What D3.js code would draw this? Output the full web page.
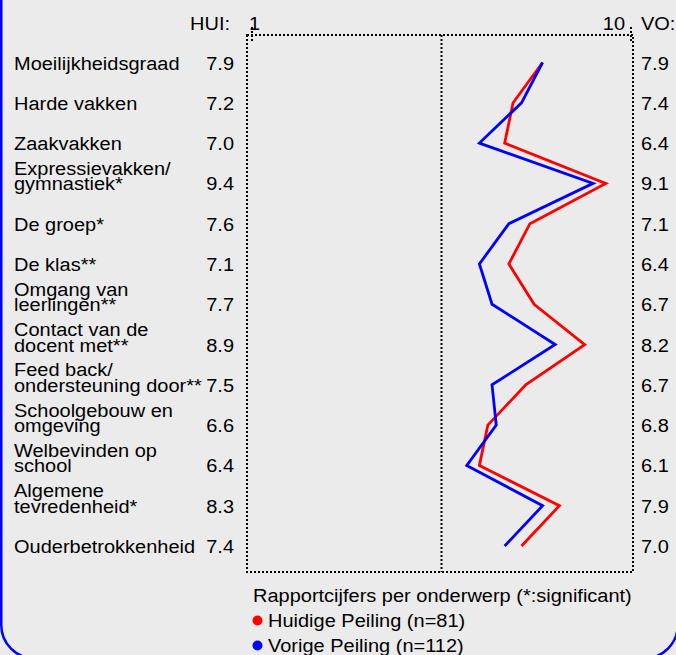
<!DOCTYPE html>
<html>
<head>
<meta charset="utf-8">
<script src="https://cdnjs.cloudflare.com/ajax/libs/d3/7.8.5/d3.min.js"></script>
<style>
  html, body { margin: 0; padding: 0; background: #ebebeb; }
  svg { display: block; }
  text { font-family: Arial, "Liberation Sans", sans-serif; font-size: 20px; fill: #000; }
</style>
</head>
<body>
<svg id="svg" width="676" height="655"></svg>
<script>
  // onderwerpen (regels met \n worden over twee regels gezet)
  var categories = [
    'Moeilijkheidsgraad',
    'Harde vakken',
    'Zaakvakken',
    'Expressievakken/\ngymnastiek*',
    'De groep*',
    'De klas**',
    'Omgang van\nleerlingen**',
    'Contact van de\ndocent met**',
    'Feed back/\nondersteuning door**',
    'Schoolgebouw en\nomgeving',
    'Welbevinden op\nschool',
    'Algemene\ntevredenheid*',
    'Ouderbetrokkenheid'
  ];
  var huidig = [7.9, 7.2, 7.0, 9.4, 7.6, 7.1, 7.7, 8.9, 7.5, 6.6, 6.4, 8.3, 7.4];
  var vorig  = [7.9, 7.4, 6.4, 9.1, 7.1, 6.4, 6.7, 8.2, 6.7, 6.8, 6.1, 7.9, 7.0];
  var scaleTicks = [1, 10];
  var legendItems = ['Huidige Peiling (n=81)', 'Vorige Peiling (n=112)'];
  var colors = ['#ff0000', '#0000ff'];

  var svg = d3.select('#svg'),
      W = 676, H = 655;

  var x = d3.scaleLinear().domain([1, 10]).range([252, 631]);
  var y = d3.scalePoint().domain(d3.range(categories.length)).range([62.5, 546]);

  var frameTop = 35, frameBottom = 572;

  // ====================================================================================
  // === Achtergrond + rand

  svg.append('rect')
    .attr('x', 1.25).attr('y', -60)
    .attr('width', 676.5).attr('height', 718.4)
    .attr('rx', 33.4).attr('ry', 33.4)
    .attr('fill', '#ebebeb')
    .attr('stroke', '#0000ff')
    .attr('stroke-width', 2.5);

  // tekst iets plat gedrukt, zoals in het origineel
  function label (g, tx, ty, str, anchor) {
    return g.append('text')
      .attr('transform', 'translate(' + tx + ',' + ty + ') scale(1,0.93)')
      .attr('text-anchor', anchor || 'start')
      .text(str);
  }

  // ====================================================================================
  // === Kader

  var frame = svg.append('g')
    .attr('fill', 'none')
    .attr('stroke', '#000')
    .attr('stroke-width', 2)
    .attr('stroke-dasharray', '2,2');

  frame.append('rect')
    .attr('x', x(1) - 5)
    .attr('y', frameTop)
    .attr('width', x(10) + 2 - (x(1) - 5))
    .attr('height', frameBottom - frameTop);

  frame.append('line')
    .attr('x1', x(5.5)).attr('x2', x(5.5))
    .attr('y1', frameTop).attr('y2', frameBottom);

  frame.selectAll('.tick').data(scaleTicks).enter().append('line')
    .attr('class', 'tick')
    .attr('x1', function (d) { return x(d); })
    .attr('x2', function (d) { return x(d); })
    .attr('y1', 27).attr('y2', 41);

  // kop
  label(svg, 230, 30, 'HUI:', 'end');
  label(svg, x(1) - 3, 30, scaleTicks[0], 'start');
  label(svg, x(10) - 6, 30, scaleTicks[1], 'end');
  label(svg, 641, 30, 'VO:', 'start');

  // ====================================================================================
  // === Rijen

  categories.forEach(function (c, i) {
    var base = y(i) + 7,
        lines = c.split('\n');
    lines.forEach(function (l, j) {
      label(svg, 14, base - (lines.length - 1 - j) * 15.5, l, 'start');
    });
    label(svg, 234, base, d3.format('.1f')(huidig[i]), 'end');
    label(svg, 641, base, d3.format('.1f')(vorig[i]), 'start');
  });

  // ====================================================================================
  // === Lijnen

  var line = d3.line()
    .x(function (d) { return x(d); })
    .y(function (d, i) { return y(i); });

  svg.selectAll('.serie').data([huidig, vorig]).enter().append('path')
    .attr('class', 'serie')
    .attr('d', line)
    .attr('fill', 'none')
    .attr('stroke', function (d, i) { return colors[i]; })
    .attr('stroke-width', 2.8)
    .attr('stroke-linejoin', 'miter');

  // ====================================================================================
  // === Legenda

  label(svg, 253, 601.5, 'Rapportcijfers per onderwerp (*:significant)', 'start');

  var legend = svg.selectAll('.legend').data(legendItems).enter().append('g')
    .attr('class', 'legend')
    .attr('transform', function (d, i) { return 'translate(0,' + (i * 25) + ')'; });

  legend.append('circle')
    .attr('cx', 257.5).attr('cy', 620.5)
    .attr('r', 5)
    .attr('fill', function (d, i) { return colors[i]; });

  legend.each(function (d) {
    label(d3.select(this), 268, 627, d, 'start');
  });
</script>
</body>
</html>
